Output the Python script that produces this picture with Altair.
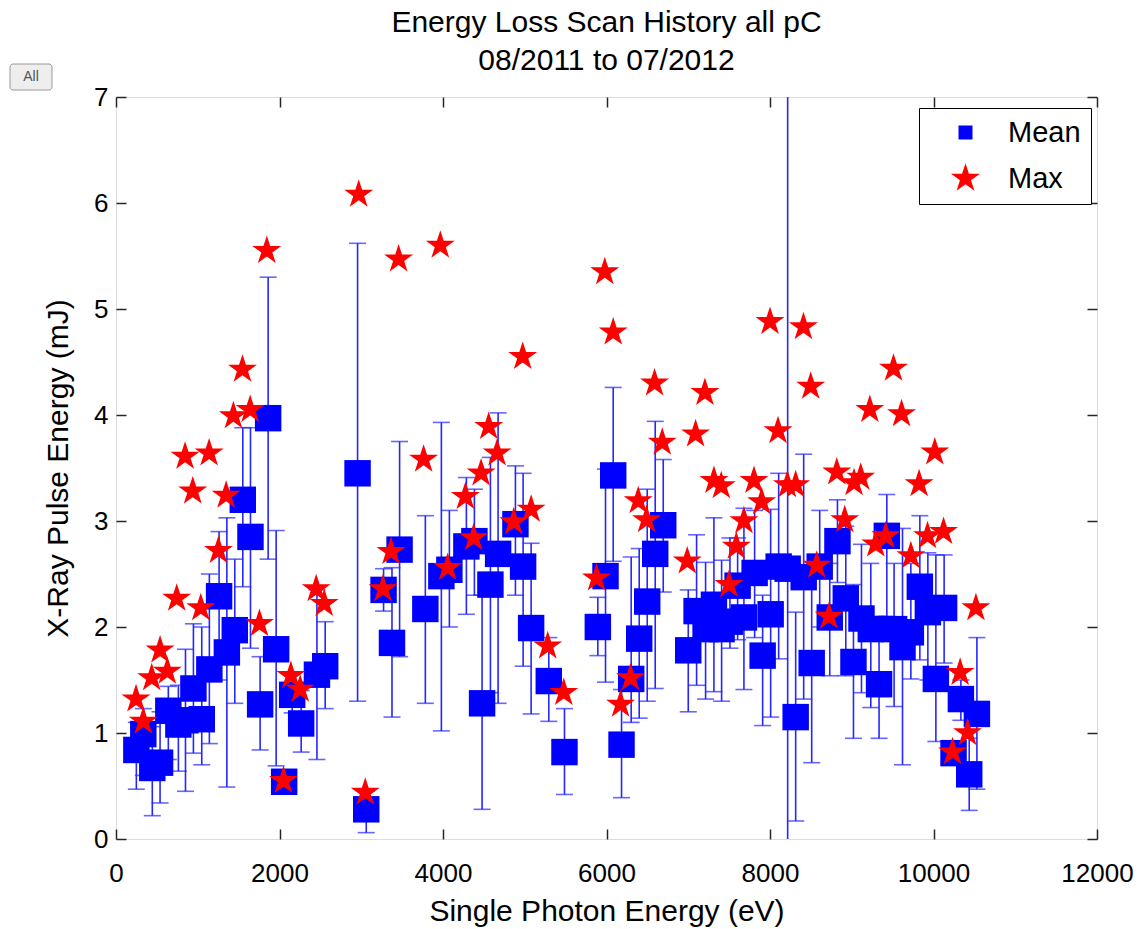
import altair as alt
import pandas as pd

FONT = "Liberation Sans, Arial, Helvetica, sans-serif"

# ---- data ----
mean_x = [249, 334, 444, 539, 640, 763, 850, 947, 1049, 1142, 1261, 1356, 1453, 1551, 1645,
          1763, 1861, 1959, 2057, 2155, 2265, 2458, 2559, 2955, 3061,
          3273, 3376, 3469, 3784, 3980, 4078, 4286, 4384, 4478, 4580, 4674, 4886, 4980, 5078,
          5294, 5486, 5894, 5988, 6082, 6184, 6302, 6400, 6498, 6596, 6694,
          7000, 7102, 7212, 7314, 7408, 7510, 7604, 7681, 7812, 7910, 8008, 8106, 8216, 8314,
          8412, 8510, 8608, 8731, 8825, 8927, 9021, 9119, 9233, 9334, 9429, 9518, 9621, 9723,
          9833, 9931, 10029, 10130, 10245, 10335, 10437, 10531]
mean_y = [0.84, 0.99, 0.67, 0.72, 1.21, 1.08, 1.12, 1.42, 1.13, 1.60, 2.29, 1.76, 1.97, 3.20, 2.85,
          1.27, 3.97, 1.79, 0.54, 1.36, 1.09, 1.55, 1.63, 3.45, 0.28,
          2.35, 1.85, 2.73, 2.17, 2.48, 2.54, 2.76, 2.81, 1.28, 2.40, 2.69, 2.97, 2.57, 1.99,
          1.49, 0.82, 2.00, 2.48, 3.43, 0.89, 1.51, 1.89, 2.24, 2.69, 2.96,
          1.78, 2.15, 1.98, 2.21, 1.98, 2.05, 2.39, 2.09, 2.51, 1.73, 2.12, 2.57, 2.55, 1.15,
          2.47, 1.66, 2.57, 2.09, 2.81, 2.27, 1.67, 2.08, 1.98, 1.46, 2.86, 1.98, 1.81, 1.95,
          2.38, 2.14, 1.51, 2.18, 0.81, 1.32, 0.61, 1.18]
err_lo = [0.47, 0.60, 0.22, 0.34, 0.75, 0.64, 0.45, 0.81, 0.70, 0.90, 1.50, 0.49, 1.28, 2.38, 1.80,
          0.84, 2.64, 0.69, 0.45, 1.19, 0.82, 0.75, 1.23, 1.30, 0.06,
          2.15, 1.15, 1.72, 1.28, 1.02, 2.00, 2.12, 2.30, 0.28, 1.38, 1.28, 2.30, 1.63, 1.18,
          1.11, 0.42, 1.73, 1.48, 2.62, 0.39, 1.10, 1.14, 1.30, 1.42, 2.33,
          1.20, 1.45, 1.32, 1.39, 1.30, 1.80, 1.88, 1.41, 1.90, 1.07, 1.15, 1.70, -0.50, 0.17,
          1.32, 0.72, 2.00, 1.54, 2.42, 1.54, 0.95, 1.38, 1.24, 0.95, 2.10, 1.25, 0.70, 1.51,
          1.69, 1.50, 0.92, 1.66, 0.70, 1.12, 0.27, 0.47]
err_hi = [1.10, 1.23, 1.06, 1.20, 1.44, 1.45, 1.79, 2.03, 2.00, 2.50, 2.90, 3.03, 2.64, 3.88, 3.88,
          1.72, 5.30, 2.91, 0.63, 1.55, 1.40, 2.35, 2.05, 5.62, 0.45,
          2.55, 2.56, 3.75, 3.05, 3.93, 3.10, 3.41, 3.30, 2.30, 3.60, 4.02, 3.52, 3.45, 2.79,
          1.90, 1.23, 2.28, 3.49, 4.26, 1.41, 2.66, 2.74, 3.30, 3.94, 3.58,
          2.35, 2.87, 2.61, 3.03, 2.63, 2.84, 2.84, 3.12, 3.10, 2.30, 3.11, 3.45, 7.50, 2.14,
          3.63, 2.50, 3.10, 2.60, 3.20, 2.95, 2.40, 2.78, 2.60, 2.10, 3.25, 2.60, 2.93, 2.60,
          3.05, 2.70, 2.68, 2.68, 0.92, 1.50, 0.95, 1.90]

max_x = [245, 334, 437, 539, 628, 743, 845, 939, 1037, 1139, 1253, 1347, 1436, 1547, 1641,
         1755, 1845, 2049, 2139, 2253, 2449, 2547, 2969, 3049,
         3266, 3364, 3457, 3763, 3967, 4057, 4274, 4375, 4466, 4559, 4662, 4865, 4975, 5078,
         5281, 5477, 5878, 5979, 6082, 6172, 6294, 6388, 6490, 6588, 6682,
         6988, 7090, 7204, 7314, 7404, 7498, 7588, 7681, 7804, 7898, 8000, 8098, 8213, 8314,
         8409, 8498, 8572, 8722, 8817, 8914, 9028, 9110, 9221, 9294, 9416, 9511, 9609, 9723,
         9824, 9927, 10016, 10123, 10233, 10326, 10417, 10519]
max_y = [1.32, 1.11, 1.52, 1.78, 1.58, 2.27, 3.61, 3.28, 2.18, 3.64, 2.72, 3.24, 3.99, 4.43, 4.05,
         2.03, 5.55, 0.55, 1.54, 1.41, 2.36, 2.22, 6.08, 0.44,
         2.36, 2.71, 5.47, 3.58, 5.60, 2.56, 3.23, 2.84, 3.45, 3.89, 3.64, 2.99, 4.55, 3.11,
         1.82, 1.38, 2.46, 5.35, 4.78, 1.27, 1.52, 3.19, 3.01, 4.30, 3.74,
         2.62, 3.82, 4.21, 3.38, 3.33, 2.40, 2.76, 3.00, 3.38, 3.18, 4.88, 3.85, 3.34, 3.34,
         4.83, 4.27, 2.58, 2.10, 3.46, 3.01, 3.36, 3.41, 4.05, 2.78, 2.86, 4.44, 4.01, 2.67,
         3.35, 2.86, 3.65, 2.90, 0.82, 1.57, 1.00, 2.18]

x_ticks = [0, 2000, 4000, 6000, 8000, 10000, 12000]
y_ticks = [0, 1, 2, 3, 4, 5, 6, 7]
series_names = ["Mean", "Max"]
button_label = ["All"]

means = pd.DataFrame({"x": mean_x, "mean": mean_y, "lo": err_lo, "hi": err_hi,
                      "series": "Mean"})
maxes = pd.DataFrame({"x": max_x, "max": max_y, "series": "Max"})
button = pd.DataFrame({"t": button_label})

STAR = ("M0,-1L0.2245,-0.309L0.9511,-0.309L0.3633,0.118L0.5878,0.809L0,0.382"
        "L-0.5878,0.809L-0.3633,0.118L-0.9511,-0.309L-0.2245,-0.309Z")

xs = alt.Scale(domain=[0, 12000], nice=False, zero=False)
ys = alt.Scale(domain=[0, 7], nice=False, zero=False)

FRAME = "#262626"
TICK_LEN = 10

x_axis_bottom = alt.Axis(values=x_ticks, format="d", orient="bottom", offset=-TICK_LEN,
                         tickSize=TICK_LEN, tickColor=FRAME, tickWidth=1.5, domain=False,
                         grid=False, labelFontSize=26, labelFont=FONT, labelColor="black",
                         labelPadding=21, title="Single Photon Energy (eV)",
                         titleFontSize=30, titleFont=FONT, titleFontWeight="normal",
                         titleColor="black", titlePadding=10, labelFlush=False)
y_axis_left = alt.Axis(values=y_ticks, format="d", orient="left", offset=-TICK_LEN,
                       tickSize=TICK_LEN, tickColor=FRAME, tickWidth=1.5, domain=False,
                       grid=False, labelFontSize=26, labelFont=FONT, labelColor="black",
                       labelPadding=8, title="X-Ray Pulse Energy (mJ)",
                       titleFontSize=30, titleFont=FONT, titleFontWeight="normal",
                       titleColor="black", titlePadding=20, labelFlush=False)
x_axis_top = alt.Axis(values=x_ticks, orient="top", offset=-TICK_LEN, tickSize=TICK_LEN,
                      tickColor=FRAME, tickWidth=1.5, domain=False, grid=False,
                      labels=False, title=None)
y_axis_right = alt.Axis(values=y_ticks, orient="right", offset=-TICK_LEN, tickSize=TICK_LEN,
                        tickColor=FRAME, tickWidth=1.5, domain=False, grid=False,
                        labels=False, title=None)

LEG = alt.Legend(title=None, orient="none", legendX=803, legendY=11, direction="vertical",
                 fillColor="white", strokeColor="black", padding=10, symbolOffset=21,
                 labelOffset=27, labelFontSize=29, labelFont=FONT, labelColor="black",
                 rowPadding=15, symbolStrokeWidth=0)

color_enc = alt.Color("series:N", scale=alt.Scale(domain=series_names,
                                                  range=["#0000ff", "#ff0000"]), legend=LEG)
shape_enc = alt.Shape("series:N", scale=alt.Scale(domain=series_names,
                                                  range=["square", STAR]), legend=LEG)

ERR = "#2626ff"

rules = alt.Chart(means).mark_rule(color=ERR, strokeWidth=1.6, clip=True).encode(
    x=alt.X("x:Q", scale=xs, axis=x_axis_bottom),
    y=alt.Y("lo:Q", scale=ys, axis=y_axis_left),
    y2="hi:Q",
)
caps_lo = alt.Chart(means).mark_tick(color=ERR, orient="horizontal", size=17,
                                     thickness=1.6, clip=True).encode(
    x=alt.X("x:Q", scale=xs, axis=None),
    y=alt.Y("lo:Q", scale=ys, axis=None),
)
caps_hi = alt.Chart(means).mark_tick(color=ERR, orient="horizontal", size=17,
                                     thickness=1.6, clip=True).encode(
    x=alt.X("x:Q", scale=xs, axis=None),
    y=alt.Y("hi:Q", scale=ys, axis=None),
)
squares = alt.Chart(means).mark_point(filled=True, opacity=1, strokeWidth=0).encode(
    x=alt.X("x:Q", scale=xs, axis=None),
    y=alt.Y("mean:Q", scale=ys, axis=None),
    color=color_enc,
    shape=shape_enc,
    size=alt.value(700),
)
stars = alt.Chart(maxes).mark_point(filled=True, opacity=1, strokeWidth=0).encode(
    x=alt.X("x:Q", scale=xs, axis=x_axis_top),
    y=alt.Y("max:Q", scale=ys, axis=y_axis_right),
    color=color_enc,
    shape=shape_enc,
    size=alt.Size("series:N", scale=alt.Scale(domain=series_names, range=[196, 925]),
                  legend=LEG),
)

# the small "All" button at the top-left of the page
btn_box = alt.Chart(button).mark_rect(fill="#eeeeee", stroke="#9a9a9a", strokeWidth=1,
                                      cornerRadius=3).encode(
    x=alt.value(-106), x2=alt.value(-64), y=alt.value(-33), y2=alt.value(-7)
)
btn_text = alt.Chart(button).mark_text(fontSize=14, font=FONT, color="#555555").encode(
    text="t:N", x=alt.value(-85), y=alt.value(-20)
)

chart = alt.layer(rules, caps_lo, caps_hi, squares, stars, btn_box, btn_text).resolve_axis(
    x="independent", y="independent"
).properties(
    width=981,
    height=742,
    autosize=alt.AutoSizeParams(type="none"),
    padding={"left": 116, "top": 97, "right": 42, "bottom": 90},
    title=alt.TitleParams(
        text=["Energy Loss Scan History all pC", "08/2011 to 07/2012"],
        anchor="middle", frame="group", fontSize=30, font=FONT,
        fontWeight="normal", color="black", lineHeight=38, offset=-12,
    ),
).configure_view(
    stroke=FRAME, strokeWidth=1.5
).configure(background="white")

chart.save("out.html", embed_options={"renderer": "svg", "actions": False})
